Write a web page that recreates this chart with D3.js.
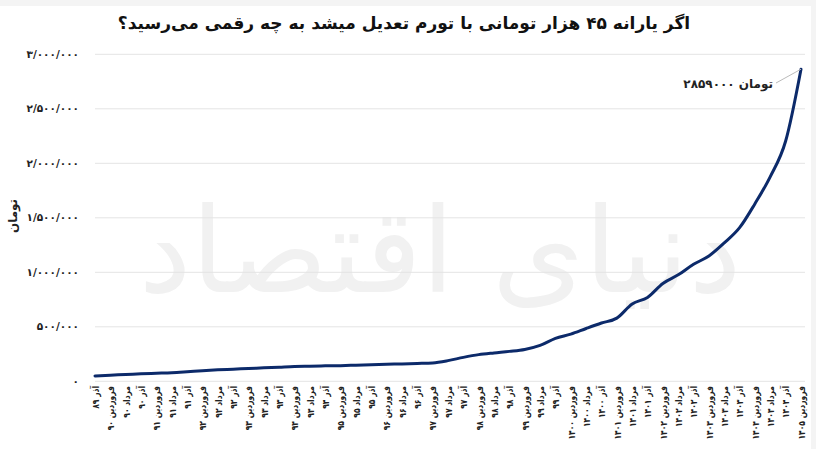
<!DOCTYPE html>
<html>
<head>
<meta charset="utf-8">
<script src="https://cdn.jsdelivr.net/npm/d3@7"></script>
<style>
  html, body { margin: 0; padding: 0; background: #f4f4f4; }
  svg { display: block; }
  text { font-family: "DejaVu Sans", "Noto Sans", sans-serif; }
</style>
</head>
<body>
<svg id="chart" width="816" height="449"></svg>
<script>
// ---- data ----
const titleText = "اگر یارانه ۴۵ هزار تومانی با تورم تعدیل میشد به چه رقمی می‌رسید؟";
const yAxisTitle = "تومان";
const months = [
  "آذر ۸۹",
  "فروردین ۹۰", "مرداد ۹۰", "آذر ۹۰",
  "فروردین ۹۱", "مرداد ۹۱", "آذر ۹۱",
  "فروردین ۹۲", "مرداد ۹۲", "آذر ۹۲",
  "فروردین ۹۳", "مرداد ۹۳", "آذر ۹۳",
  "فروردین ۹۴", "مرداد ۹۴", "آذر ۹۴",
  "فروردین ۹۵", "مرداد ۹۵", "آذر ۹۵",
  "فروردین ۹۶", "مرداد ۹۶", "آذر ۹۶",
  "فروردین ۹۷", "مرداد ۹۷", "آذر ۹۷",
  "فروردین ۹۸", "مرداد ۹۸", "آذر ۹۸",
  "فروردین ۹۹", "مرداد ۹۹", "آذر ۹۹",
  "فروردین ۱۴۰۰", "مرداد ۱۴۰۰", "آذر ۱۴۰۰",
  "فروردین ۱۴۰۱", "مرداد ۱۴۰۱", "آذر ۱۴۰۱",
  "فروردین ۱۴۰۲", "مرداد ۱۴۰۲", "آذر ۱۴۰۲",
  "فروردین ۱۴۰۳", "مرداد ۱۴۰۳", "آذر ۱۴۰۳",
  "فروردین ۱۴۰۴", "مرداد ۱۴۰۴", "آذر ۱۴۰۴",
  "فروردین ۱۴۰۵"
];
const values = [
  45000,
  52000, 57000, 64000,
  69000, 74000, 83000,
  93000, 101000, 107000,
  113000, 119000, 125000,
  131000, 134000, 137000,
  139000, 143000, 147000,
  151000, 155000, 159000,
  164000, 185000, 215000,
  240000, 256000, 270000,
  288000, 325000, 390000,
  428000, 480000, 530000,
  575000, 705000, 765000,
  893000, 972000, 1069000,
  1145000, 1265000, 1405000,
  1625000, 1873000, 2200000,
  2859000
];
const yTicks = [0, 500000, 1000000, 1500000, 2000000, 2500000, 3000000];
const yTickLabels = ["۰", "۵۰۰/۰۰۰", "۱/۰۰۰/۰۰۰", "۱/۵۰۰/۰۰۰", "۲/۰۰۰/۰۰۰", "۲/۵۰۰/۰۰۰", "۳/۰۰۰/۰۰۰"];
const annotationText = "۲۸۵۹۰۰۰ تومان";
const watermarkText = "دنیای اقتصاد";

// ---- drawing ----
const svg = d3.select("#chart");
const W = 816, H = 449;

svg.append("rect").attr("x", 0).attr("y", 0).attr("width", W).attr("height", H).attr("fill", "#f4f4f4");
svg.append("rect").attr("x", 0).attr("y", 6).attr("width", 811).attr("height", H - 6).attr("fill", "#ffffff");

const x = d3.scalePoint().domain(months).range([95, 801]);
const y = d3.scaleLinear().domain([0, 3000000]).range([380.8, 53.8]);

// watermark
svg.append("text")
  .attr("x", 440).attr("y", 292)
  .attr("text-anchor", "middle")
  .attr("font-size", 118)
  .attr("fill", "#f1f1f1")
  .text(watermarkText);

// gridlines
const grid = d3.axisLeft(y).tickValues(yTicks).tickSize(-(805 - 95)).tickFormat("");
svg.append("g")
  .attr("transform", "translate(95,0)")
  .call(grid)
  .call(g => g.select(".domain").remove())
  .call(g => g.selectAll("line").attr("stroke", "#e4e4e4").attr("stroke-width", 1));

// y tick labels
const yAxis = d3.axisLeft(y).tickValues(yTicks).tickSize(0).tickPadding(0)
  .tickFormat((d, i) => yTickLabels[i]);
svg.append("g")
  .attr("transform", "translate(79,0)")
  .call(yAxis)
  .call(g => g.select(".domain").remove())
  .call(g => g.selectAll("text")
    .attr("font-size", 10.5).attr("font-weight", "bold").attr("fill", "#222")
    .attr("font-family", "DejaVu Sans"));

// x axis labels
const xAxis = d3.axisBottom(x).tickSize(0).tickPadding(0);
svg.append("g")
  .attr("transform", "translate(0,386)")
  .call(xAxis)
  .call(g => g.select(".domain").remove())
  .call(g => g.selectAll("text")
    .attr("transform", "rotate(-90) scale(0.8,1)")
    .attr("text-anchor", "end")
    .attr("x", 0).attr("y", 0).attr("dy", "0.35em")
    .attr("font-size", 9.5).attr("font-weight", "bold").attr("fill", "#222")
    .attr("font-family", "DejaVu Sans"));

// line
const line = d3.line()
  .x((d, i) => x(months[i]))
  .y(d => y(d))
  .curve(d3.curveMonotoneX);
svg.append("path")
  .datum(values)
  .attr("d", line)
  .attr("fill", "none")
  .attr("stroke", "#0c2a6a")
  .attr("stroke-width", 3)
  .attr("stroke-linejoin", "round")
  .attr("stroke-linecap", "round");

// annotation
const lastX = x(months[months.length - 1]);
const lastY = y(values[values.length - 1]);
svg.append("line")
  .attr("x1", 776).attr("y1", 83)
  .attr("x2", lastX).attr("y2", lastY)
  .attr("stroke", "#bbbbbb").attr("stroke-width", 1);
svg.append("text")
  .attr("x", 773).attr("y", 84)
  .attr("dy", "0.35em")
  .attr("text-anchor", "end")
  .attr("font-size", 12).attr("font-weight", "bold").attr("fill", "#222")
  .text(annotationText);

// y axis title
svg.append("text")
  .attr("transform", "translate(13,216) rotate(-90)")
  .attr("text-anchor", "middle")
  .attr("dy", "0.35em")
  .attr("font-size", 12).attr("font-weight", "bold").attr("fill", "#222")
  .text(yAxisTitle);

// title
svg.append("text")
  .attr("x", 404).attr("y", 23)
  .attr("dy", "0.35em")
  .attr("text-anchor", "middle")
  .attr("font-size", 17).attr("font-weight", "bold").attr("fill", "#111")
  .text(titleText);
</script>
</body>
</html>
